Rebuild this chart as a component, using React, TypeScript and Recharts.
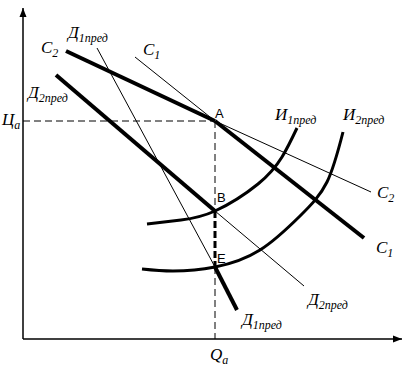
import React from "react"
import { ComposedChart, Line, Scatter, XAxis, YAxis } from "recharts"

// chart units: origin at the axes crossing
const Qa = 192
const Ca = 218

const yAxisLine = [{ x: 0, y: 0 }, { x: 0, y: 331 }]
const xAxisLine = [{ x: 0, y: 0 }, { x: 379, y: 0 }]
const yArrow = [{ x: 0, y: 331 }]
const xArrow = [{ x: 379, y: 0 }]

const pointA = { x: Qa, y: Ca }
const pointB = { x: Qa, y: 128 }
const pointE = { x: Qa, y: 72 }

// supply lines
const c2Thick = [{ x: 43, y: 288 }, pointA]
const c2Thin = [pointA, { x: 348, y: 147 }]
const c1Thin = [{ x: 112, y: 282 }, pointA]
const c1Thick = [pointA, { x: 341, y: 101 }]

// demand lines
const d2Thick = [{ x: 33, y: 264 }, pointB]
const d2Thin = [pointB, { x: 281, y: 53 }]
const d1Thin = [{ x: 74, y: 291 }, pointE]
const d1Thick = [pointE, { x: 214, y: 29 }]

// costs curves
const i1Curve = [
  { x: 124, y: 115 }, { x: 158, y: 119 }, pointB,
  { x: 235, y: 155 }, { x: 259, y: 182 }, { x: 274, y: 211 },
]
const i2Curve = [
  { x: 119, y: 70 }, { x: 150, y: 68 }, pointE,
  { x: 237, y: 89 }, { x: 277, y: 123 }, { x: 304, y: 157 },
  { x: 320, y: 207 },
]

// guides
const priceGuide = [{ x: 0, y: Ca }, pointA]
const qGuideTop = [pointA, pointB]
const qGuideMid = [pointB, pointE]
const qGuideLow = [pointE, { x: Qa, y: 0 }]

const labels = [
  { x: 18, y: 286, text: "C", sub: "2" },
  { x: 45, y: 301, text: "Д", sub: "1пред" },
  { x: 120, y: 284, text: "C", sub: "1" },
  { x: 5, y: 241, text: "Д", sub: "2пред" },
  { x: -21, y: 214, text: "Ц", sub: "a" },
  { x: 252, y: 219, text: "И", sub: "1пред" },
  { x: 320, y: 219, text: "И", sub: "2пред" },
  { x: 354, y: 141, text: "C", sub: "2" },
  { x: 353, y: 86, text: "C", sub: "1" },
  { x: 285, y: 34, text: "Д", sub: "2пред" },
  { x: 219, y: 14, text: "Д", sub: "1пред" },
  { x: 187, y: -21, text: "Q", sub: "a" },
]
const pointLabels = [
  { x: 192, y: 221, text: "A" },
  { x: 194, y: 137, text: "B" },
  { x: 194, y: 76, text: "E" },
]

if (typeof document !== "undefined") document.body.style.margin = "0"

const SerifLabel = (props: any) => {
  const { cx, cy, payload } = props
  return (
    <text x={cx} y={cy} fontFamily="Liberation Serif" fontStyle="italic" fontSize={17} fill="#000">
      {payload.text}
      <tspan dy={4} fontSize={12}>{payload.sub}</tspan>
    </text>
  )
}

const PointLabel = (props: any) => {
  const { cx, cy, payload } = props
  return (
    <text x={cx} y={cy} fontFamily="Liberation Sans" fontSize={13} fill="#000">
      {payload.text}
    </text>
  )
}

const UpArrow = (props: any) => {
  const { cx, cy } = props
  return <polygon points={`${cx},${cy} ${cx - 3.5},${cy + 9} ${cx + 3.5},${cy + 9}`} fill="#000" />
}

const RightArrow = (props: any) => {
  const { cx, cy } = props
  return <polygon points={`${cx},${cy} ${cx - 9},${cy - 3.5} ${cx - 9},${cy + 3.5}`} fill="#000" />
}

export default function App() {
  const line = (key: string, data: any[], w: number, dash?: string, curve?: boolean) => (
    <Line
      key={key}
      data={data}
      dataKey="y"
      type={curve ? "natural" : "linear"}
      stroke="#000"
      strokeWidth={w}
      strokeDasharray={dash}
      dot={false}
      activeDot={false}
      isAnimationActive={false}
    />
  )

  return (
    <div style={{ width: 410, height: 369, background: "#fff" }}>
      <ComposedChart width={410} height={369} margin={{ top: 0, right: 0, bottom: 0, left: 0 }}>
        <XAxis type="number" dataKey="x" domain={[-23, 387]} hide allowDataOverflow />
        <YAxis type="number" dataKey="y" domain={[-30, 339]} hide allowDataOverflow />
        {line("yaxis", yAxisLine, 1.5)}
        {line("xaxis", xAxisLine, 1.5)}
        {line("price", priceGuide, 1, "7 4")}
        {line("qTop", qGuideTop, 1, "7 4")}
        {line("qMid", qGuideMid, 3, "7 3")}
        {line("qLow", qGuideLow, 1, "7 4")}
        {line("c1thin", c1Thin, 1)}
        {line("c2thin", c2Thin, 1)}
        {line("d1thin", d1Thin, 1)}
        {line("d2thin", d2Thin, 1)}
        {line("c2thick", c2Thick, 4)}
        {line("c1thick", c1Thick, 4)}
        {line("d2thick", d2Thick, 4)}
        {line("d1thick", d1Thick, 4)}
        {line("i1", i1Curve, 3, undefined, true)}
        {line("i2", i2Curve, 3, undefined, true)}
        <Scatter data={yArrow} dataKey="y" shape={UpArrow} isAnimationActive={false} />
        <Scatter data={xArrow} dataKey="y" shape={RightArrow} isAnimationActive={false} />
        <Scatter data={labels} dataKey="y" shape={SerifLabel} isAnimationActive={false} />
        <Scatter data={pointLabels} dataKey="y" shape={PointLabel} isAnimationActive={false} />
      </ComposedChart>
    </div>
  )
}
